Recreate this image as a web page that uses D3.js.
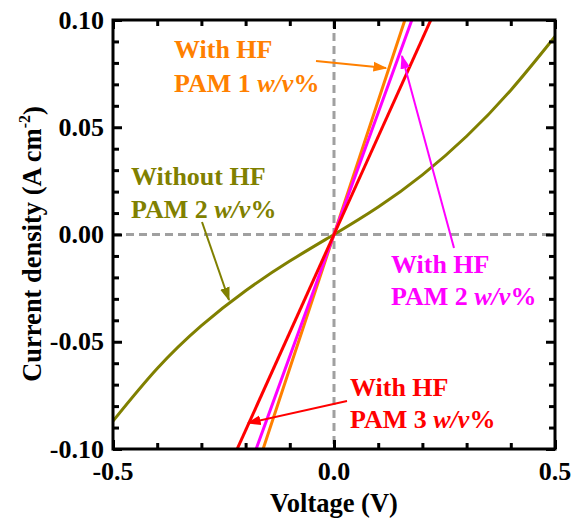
<!DOCTYPE html>
<html>
<head>
<meta charset="utf-8">
<script src="https://cdn.jsdelivr.net/npm/d3@7/dist/d3.min.js"></script>
<style>
  html, body { margin: 0; padding: 0; background: #fff; }
  svg { display: block; font-family: "Liberation Serif", "Times New Roman", serif; font-weight: bold; }
</style>
</head>
<body>
<svg id="chart" width="572" height="523"></svg>
<script>
// J–V data (V in volts, J in A cm^-2)
const oliveV = [-0.5, -0.4, -0.3, -0.2, -0.1, 0, 0.1, 0.2, 0.3, 0.4, 0.5];
const oliveJ = [-0.087, -0.0625, -0.0425, -0.0262, -0.0124, 0, 0.0128, 0.0278, 0.0458, 0.0673, 0.0923];
const pam1V = [-0.17, 0, 0.17];
const pam1J = [-0.106, 0, 0.106];
const pam2V = [-0.18, 0, 0.18];
const pam2J = [-0.1022, 0, 0.1022];
const pam3V = [-0.23, 0, 0.23];
const pam3J = [-0.105, 0, 0.105];

const xMajor = [-0.5, 0, 0.5];
const xMajorLabels = ["-0.5", "0.0", "0.5"];
const xMinor = [-0.4, -0.3, -0.2, -0.1, 0.1, 0.2, 0.3, 0.4];
const yMajor = [0.1, 0.05, 0, -0.05, -0.1];
const yMajorLabels = ["0.10", "0.05", "0.00", "-0.05", "-0.10"];
const yMinor = [0.09, 0.08, 0.07, 0.06, 0.04, 0.03, 0.02, 0.01, -0.01, -0.02, -0.03, -0.04, -0.06, -0.07, -0.08, -0.09];

const L = 113, R = 555, T = 20, B = 449;
const x = d3.scaleLinear().domain([-0.5, 0.5]).range([L, R]);
const y = d3.scaleLinear().domain([-0.1, 0.1]).range([B, T]);

const svg = d3.select("#chart");

svg.append("defs").append("clipPath").attr("id", "plotclip")
  .append("rect").attr("x", L).attr("y", T).attr("width", R - L).attr("height", B - T);

function marker(id, color, size) {
  svg.select("defs").append("marker")
    .attr("id", id).attr("viewBox", "0 0 10 10").attr("refX", 9).attr("refY", 5)
    .attr("markerWidth", size).attr("markerHeight", size).attr("markerUnits", "userSpaceOnUse")
    .attr("orient", "auto")
    .append("path").attr("d", "M0,1.5 L10,5 L0,8.5 Z").attr("fill", color);
}
marker("ah-orange", "#ff8000", 14);
marker("ah-magenta", "#ff00ff", 14);
marker("ah-olive", "#808000", 14);
marker("ah-red", "#ff0000", 14);

// Zero guides
const guides = svg.append("g").attr("stroke", "#a0a0a0").attr("stroke-width", 3).attr("stroke-dasharray", "8,5");
guides.append("line").attr("x1", x(0)).attr("x2", x(0)).attr("y1", T).attr("y2", B);
guides.append("line").attr("x1", L).attr("x2", R).attr("y1", y(0)).attr("y2", y(0));

// Curves
const plot = svg.append("g").attr("clip-path", "url(#plotclip)");
const lineGen = d3.line().x(d => x(d[0])).y(d => y(d[1]));
const series = [
  { v: oliveV, j: oliveJ, color: "#808000", curve: d3.curveNatural },
  { v: pam1V, j: pam1J, color: "#ff8000", curve: d3.curveLinear },
  { v: pam2V, j: pam2J, color: "#ff00ff", curve: d3.curveLinear },
  { v: pam3V, j: pam3J, color: "#ff0000", curve: d3.curveLinear }
];
series.forEach(s => {
  plot.append("path")
    .attr("d", lineGen.curve(s.curve)(d3.zip(s.v, s.j)))
    .attr("fill", "none").attr("stroke", s.color).attr("stroke-width", 3);
});

// Axes with inward ticks on all four sides
function ticks(axis, vals, size, tr) {
  const g = svg.append("g").attr("transform", tr)
    .call(axis.tickValues(vals).tickSize(size).tickSizeOuter(0).tickFormat(""));
  g.select(".domain").remove();
  g.selectAll(".tick line").attr("stroke", "#000").attr("stroke-width", 3);
}
ticks(d3.axisBottom(x), xMajor, -9, `translate(0,${B})`);
ticks(d3.axisBottom(x), xMinor, -6, `translate(0,${B})`);
ticks(d3.axisTop(x), xMajor, -9, `translate(0,${T})`);
ticks(d3.axisTop(x), xMinor, -6, `translate(0,${T})`);
ticks(d3.axisLeft(y), yMajor, -9, `translate(${L},0)`);
ticks(d3.axisLeft(y), yMinor, -6, `translate(${L},0)`);
ticks(d3.axisRight(y), yMajor, -9, `translate(${R},0)`);
ticks(d3.axisRight(y), yMinor, -6, `translate(${R},0)`);

svg.append("rect").attr("x", L).attr("y", T).attr("width", R - L).attr("height", B - T)
  .attr("fill", "none").attr("stroke", "#000").attr("stroke-width", 3);

// Tick labels
svg.append("g").selectAll("text").data(xMajor).join("text")
  .attr("x", d => x(d)).attr("y", 480).attr("text-anchor", "middle")
  .attr("font-size", 26).text((d, i) => xMajorLabels[i]);
svg.append("g").selectAll("text").data(yMajor).join("text")
  .attr("x", 104).attr("y", d => y(d)).attr("dy", "0.33em").attr("text-anchor", "end")
  .attr("font-size", 26).text((d, i) => yMajorLabels[i]);

// Axis titles
svg.append("text").attr("x", x(0)).attr("y", 512).attr("text-anchor", "middle")
  .attr("font-size", 26.5).text("Voltage (V)");
const yt = svg.append("text").attr("transform", "translate(41,244) rotate(-90)")
  .attr("text-anchor", "middle").attr("font-size", 26.5);
yt.append("tspan").text("Current density (A cm");
yt.append("tspan").attr("font-size", 16).attr("dy", "-0.7em").text("-2");
yt.append("tspan").attr("dy", "0.45em").text(")");

// Annotations
function label(xp, y1, y2, color, second) {
  const g = svg.append("g").attr("fill", color).attr("font-size", 26);
  g.append("text").attr("x", xp).attr("y", y1).text(second[0]);
  const t = g.append("text").attr("x", xp).attr("y", y2);
  t.append("tspan").text(second[1] + " ");
  t.append("tspan").attr("font-style", "italic").text("w/v");
  t.append("tspan").text("%");
}
label(174, 58, 92, "#ff8000", ["With HF", "PAM 1"]);
label(391, 273, 305, "#ff00ff", ["With HF", "PAM 2"]);
label(131, 185, 218, "#808000", ["Without HF", "PAM 2"]);
label(350, 396, 428, "#ff0000", ["With HF", "PAM 3"]);

function arrow(x1, y1, x2, y2, color, id) {
  svg.append("line").attr("x1", x1).attr("y1", y1).attr("x2", x2).attr("y2", y2)
    .attr("stroke", color).attr("stroke-width", 2).attr("marker-end", `url(#${id})`);
}
arrow(316, 61, 386, 68, "#ff8000", "ah-orange");
arrow(454, 248, 402, 56, "#ff00ff", "ah-magenta");
arrow(202, 222, 229, 300, "#808000", "ah-olive");
arrow(347, 401, 248, 423, "#ff0000", "ah-red");
</script>
</body>
</html>
